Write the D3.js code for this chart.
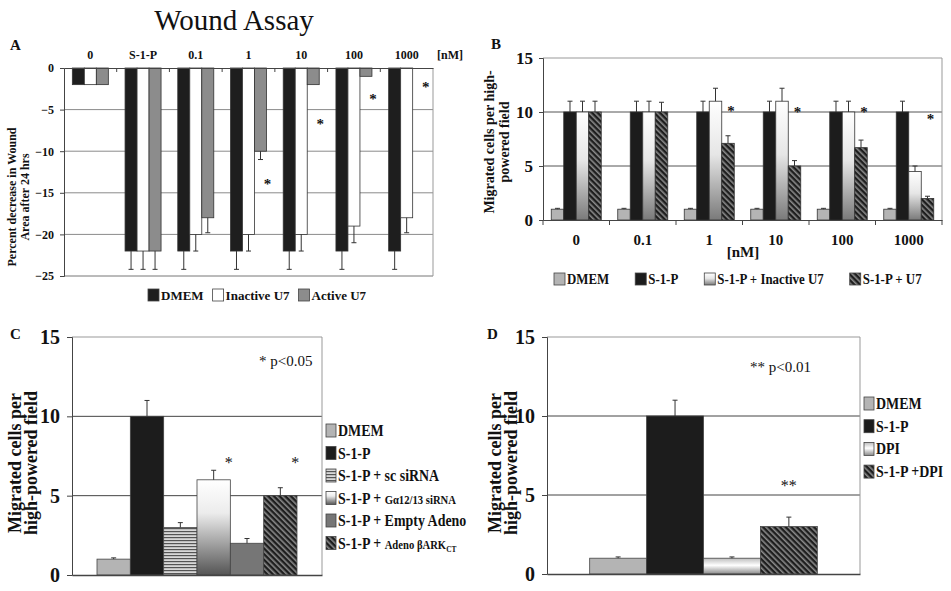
<!DOCTYPE html>
<html>
<head>
<meta charset="utf-8">
<script src="https://cdn.jsdelivr.net/npm/d3@7"></script>
<style>
  body { margin: 0; background: #fff; }
  svg text { font-family: "Liberation Serif", "Times New Roman", serif; fill: #111; }
  svg text.star { opacity: 0.99; }
</style>
</head>
<body>
<svg id="fig" width="951" height="591"></svg>
<script>
// ---- Panel A : wound assay ----
const woundCats = ["0", "S-1-P", "0.1", "1", "10", "100", "1000"];
const woundSeries = ["DMEM", "Inactive U7", "Active U7"];
const woundDMEM = [-2, -22, -22, -22, -22, -22, -22];
const woundInactive = [-2, -22, -20, -20, -20, -19, -18];
const woundActive = [-2, -22, -18, -10, -2, -1, 0];
const woundDMEMErr = [0, 2.2, 2.2, 2.2, 2.2, 2.2, 2.2];
const woundInactiveErr = [0, 2.2, 2, 2, 2, 2, 1.8];
const woundActiveErr = [0, 2.2, 1.8, 1, 0, 0, 0];
const woundStars = [null, null, null, -13.7, -6.5, -3.5, -2];
const woundTicks = [0, -5, -10, -15, -20, -25];

// ---- Panel B : migration vs U7 dose ----
const doseCats = ["0", "0.1", "1", "10", "100", "1000"];
const doseSeries = ["DMEM", "S-1-P", "S-1-P + Inactive U7", "S-1-P + U7"];
const doseDMEM = [1, 1, 1, 1, 1, 1];
const doseS1P = [10, 10, 10, 10, 10, 10];
const doseInactive = [10, 10, 11, 11, 10, 4.5];
const doseU7 = [10, 10, 7.1, 5, 6.7, 2];
const doseDMEMErr = [0.08, 0.08, 0.08, 0.08, 0.08, 0.08];
const doseS1PErr = [1, 1, 1, 1, 1, 1];
const doseInactiveErr = [1, 1, 1.2, 1.2, 1, 0.5];
const doseU7Err = [1, 0.9, 0.7, 0.5, 0.7, 0.2];
const doseStars = [null, null, 10.4, 10.3, 10.3, 9.6];
const countTicks = [0, 5, 10, 15];

// ---- Panel C : siRNA / adeno ----
const sirnaSeries = ["DMEM", "S-1-P", "S-1-P + sc siRNA", "S-1-P + Gα12/13 siRNA", "S-1-P + Empty Adeno", "S-1-P + Adeno βARKCT"];
const sirnaValues = [1, 10, 3, 6, 2, 5];
const sirnaErr = [0.08, 1, 0.3, 0.6, 0.3, 0.5];
const sirnaStars = [null, null, null, 7.3, null, 7.3];

// ---- Panel D : DPI ----
const dpiSeries = ["DMEM", "S-1-P", "DPI", "S-1-P +DPI"];
const dpiValues = [1, 10, 1, 3];
const dpiErr = [0.08, 1, 0.08, 0.6];
const dpiStars = [null, null, null, 5.8];

const svg = d3.select("#fig");
const defs = svg.append("defs");

// fills
const hatch = defs.append("pattern").attr("id", "hatch")
  .attr("patternUnits", "userSpaceOnUse").attr("width", 4).attr("height", 4)
  .attr("patternTransform", "rotate(-45)");
hatch.append("rect").attr("width", 4).attr("height", 4).attr("fill", "#1e1e1e");
hatch.append("rect").attr("width", 1.6).attr("height", 4).attr("fill", "#8a8a8a");

const hstripe = defs.append("pattern").attr("id", "hstripe")
  .attr("patternUnits", "userSpaceOnUse").attr("width", 4).attr("height", 3);
hstripe.append("rect").attr("width", 4).attr("height", 3).attr("fill", "#d8d8d8");
hstripe.append("rect").attr("width", 4).attr("height", 1.2).attr("fill", "#555");

function vgrad(id, stops) {
  const g = defs.append("linearGradient").attr("id", id)
    .attr("x1", 0).attr("y1", 0).attr("x2", 0).attr("y2", 1);
  stops.forEach(s => g.append("stop").attr("offset", s[0]).attr("stop-color", s[1]));
}
vgrad("gradInactive", [[0, "#ffffff"], [0.45, "#e6e6e6"], [1, "#7a7a7a"]]);
vgrad("gradSirna", [[0, "#ffffff"], [0.35, "#ececec"], [1, "#555555"]]);
vgrad("gradDpi", [[0, "#bdbdbd"], [0.45, "#ffffff"], [1, "#8a8a8a"]]);

function drawErr(g, cx, y0, y1) {
  g.append("line").attr("x1", cx).attr("x2", cx).attr("y1", y0).attr("y2", y1)
    .attr("stroke", "#333").attr("stroke-width", 1);
  g.append("line").attr("x1", cx - 2.5).attr("x2", cx + 2.5).attr("y1", y1).attr("y2", y1)
    .attr("stroke", "#333").attr("stroke-width", 1);
}

// horizontal legend, text squeezed by sx like the original figure
function legendRow(g, items, x, y, gap, fs, sx) {
  let cx = x;
  items.forEach(it => {
    g.append("rect").attr("x", cx).attr("y", y - 6).attr("width", 11).attr("height", 12)
      .attr("fill", it.fill).attr("stroke", "#444").attr("stroke-width", 0.8);
    const tx = cx + 13;
    const t = g.append("text").attr("x", 0).attr("y", 0)
      .attr("transform", `translate(${tx},${y + fs * 0.35}) scale(${sx},1)`)
      .attr("font-size", fs).attr("font-weight", "bold").text(it.name);
    cx = tx + t.node().getComputedTextLength() * sx + gap;
  });
}

function yLabel(g, lines, cx, cy, fs, lh) {
  const t = g.append("text").attr("transform", `translate(${cx},${cy}) rotate(-90)`)
    .attr("text-anchor", "middle").attr("font-size", fs).attr("font-weight", "bold");
  lines.forEach((l, i) => t.append("tspan").attr("x", 0).attr("dy", i === 0 ? 0 : lh).text(l));
}

// ================= Panel A =================
{
  const g = svg.append("g");
  g.append("text").attr("x", 234).attr("y", 30).attr("text-anchor", "middle")
    .attr("font-size", 29).text("Wound Assay");
  g.append("text").attr("x", 10).attr("y", 50).attr("font-size", 15).attr("font-weight", "bold").text("A");

  const x0 = d3.scaleBand().domain(woundCats).range([64, 433]).paddingInner(0.317).paddingOuter(0.158);
  const x1 = d3.scaleBand().domain(woundSeries).range([0, x0.bandwidth()]);
  const y = d3.scaleLinear().domain([-25, 0]).range([276, 68]);
  const fills = ["#1e1e1e", "#ffffff", "#8c8c8c"];
  const vals = [woundDMEM, woundInactive, woundActive];
  const errs = [woundDMEMErr, woundInactiveErr, woundActiveErr];

  // gridlines
  g.append("g").selectAll("line").data(woundTicks.filter(d => d < 0)).join("line")
    .attr("x1", 64).attr("x2", 433).attr("y1", d => y(d)).attr("y2", d => y(d))
    .attr("stroke", d => d === -25 ? "#777" : "#8a8a8a").attr("stroke-width", 1);
  g.append("line").attr("x1", 433).attr("x2", 433).attr("y1", y(0)).attr("y2", y(-25)).attr("stroke", "#999");

  woundCats.forEach((c, i) => {
    woundSeries.forEach((s, j) => {
      const v = vals[j][i];
      if (v === 0) return;
      g.append("rect").attr("x", x0(c) + x1(s)).attr("width", x1.bandwidth())
        .attr("y", y(0)).attr("height", y(v) - y(0))
        .attr("fill", fills[j]).attr("stroke", "#333").attr("stroke-width", 0.8);
      if (errs[j][i] > 0) drawErr(g, x0(c) + x1(s) + x1.bandwidth() / 2, y(v), y(v - errs[j][i]));
    });
    if (woundStars[i] !== null)
      g.append("text").attr("class", "star").attr("x", x0(c) + x0.bandwidth() + 1).attr("y", y(woundStars[i]) + 7)
        .attr("text-anchor", "middle").attr("font-size", 15).attr("font-weight", "bold").text("*");
  });

  // top axis at 0 with category labels
  const axTop = g.append("g").attr("transform", `translate(0,${y(0)})`)
    .call(d3.axisBottom(x0).tickSize(0).tickFormat(""));
  axTop.select(".domain").attr("stroke", "#444").attr("stroke-width", 1.2);
  woundCats.forEach((c, i) => {
    if (i > 0) g.append("line").attr("x1", x0(c) - (x0.step() - x0.bandwidth()) / 2)
      .attr("x2", x0(c) - (x0.step() - x0.bandwidth()) / 2)
      .attr("y1", y(0)).attr("y2", y(0) + 4).attr("stroke", "#444");
    g.append("text").attr("x", x0(c) + x0.bandwidth() / 2).attr("y", 59)
      .attr("text-anchor", "middle").attr("font-size", 12).attr("font-weight", "bold").text(c);
  });
  g.append("text").attr("x", 450).attr("y", 59).attr("text-anchor", "middle")
    .attr("font-size", 12).attr("font-weight", "bold").text("[nM]");

  const axL = g.append("g").attr("transform", "translate(64,0)")
    .call(d3.axisLeft(y).tickValues(woundTicks).tickSize(4).tickPadding(6));
  axL.select(".domain").attr("stroke", "#444");
  axL.selectAll(".tick line").attr("stroke", "#444");
  axL.selectAll(".tick text").attr("font-size", 12).attr("font-weight", "bold")
    .style("font-family", '"Liberation Serif", serif').attr("fill", "#111");

  yLabel(g, ["Percent decrease in Wound", "Area after 24 hrs"], 16, 197, 12, 13);

  legendRow(g, woundSeries.map((s, j) => ({ name: s, fill: fills[j] })), 148, 295, 9, 13, 1);
}

// ================= Panel B =================
{
  const g = svg.append("g");
  g.append("text").attr("x", 491).attr("y", 49).attr("font-size", 15).attr("font-weight", "bold").text("B");

  const x0 = d3.scaleBand().domain(doseCats).range([543, 942]).paddingInner(0.248).paddingOuter(0.124);
  const x1 = d3.scaleBand().domain(doseSeries).range([0, x0.bandwidth()]);
  const y = d3.scaleLinear().domain([0, 15]).range([220, 58]);
  const fills = ["#b4b4b4", "#1c1c1c", "url(#gradInactive)", "url(#hatch)"];
  const vals = [doseDMEM, doseS1P, doseInactive, doseU7];
  const errs = [doseDMEMErr, doseS1PErr, doseInactiveErr, doseU7Err];

  g.append("g").selectAll("line").data(countTicks.filter(d => d > 0)).join("line")
    .attr("x1", 543).attr("x2", 942).attr("y1", d => y(d)).attr("y2", d => y(d))
    .attr("stroke", d => d === 15 ? "#999" : "#555").attr("stroke-width", 1);
  g.append("line").attr("x1", 942).attr("x2", 942).attr("y1", y(15)).attr("y2", y(0)).attr("stroke", "#999");

  doseCats.forEach((c, i) => {
    doseSeries.forEach((s, j) => {
      const v = vals[j][i];
      const bx = x0(c) + x1(s);
      g.append("rect").attr("x", bx).attr("width", x1.bandwidth())
        .attr("y", y(v)).attr("height", y(0) - y(v))
        .attr("fill", fills[j]).attr("stroke", "#333").attr("stroke-width", 0.8);
      drawErr(g, bx + x1.bandwidth() / 2, y(v), y(v + errs[j][i]));
    });
    if (doseStars[i] !== null)
      g.append("text").attr("class", "star").attr("x", x0(c) + x1("S-1-P + U7") + x1.bandwidth() / 2 + 3)
        .attr("y", y(doseStars[i]) + 8).attr("text-anchor", "middle")
        .attr("font-size", 15).attr("font-weight", "bold").text("*");
  });

  const axB = g.append("g").attr("transform", `translate(0,${y(0)})`)
    .call(d3.axisBottom(x0).tickSize(0).tickPadding(14));
  axB.select(".domain").attr("stroke", "#444").attr("stroke-width", 1.2);
  axB.selectAll(".tick text").attr("font-size", 15).attr("font-weight", "bold")
    .style("font-family", '"Liberation Serif", serif').attr("fill", "#111");
  doseCats.concat(["end"]).forEach((c, i) => {
    const bx = 543 + i * x0.step();
    g.append("line").attr("x1", bx).attr("x2", bx).attr("y1", y(0)).attr("y2", y(0) + 5).attr("stroke", "#444");
  });
  g.append("text").attr("x", 743).attr("y", 257).attr("text-anchor", "middle")
    .attr("font-size", 15).attr("font-weight", "bold").text("[nM]");

  const axL = g.append("g").attr("transform", "translate(543,0)")
    .call(d3.axisLeft(y).tickValues(countTicks).tickSize(4).tickPadding(6));
  axL.select(".domain").attr("stroke", "#444");
  axL.selectAll(".tick line").attr("stroke", "#444");
  axL.selectAll(".tick text").attr("font-size", 17).attr("font-weight", "bold")
    .style("font-family", '"Liberation Serif", serif').attr("fill", "#111");

  yLabel(g, ["Migrated cells per high-", "powered field"], 494, 142, 14, 15);

  legendRow(g, doseSeries.map((s, j) => ({ name: s, fill: fills[j] })), 554, 279, 26, 15, 0.86);
}

// ============ shared single-group panels (C, D) ============
function singlePanel(o) {
  const g = svg.append("g");
  g.append("text").attr("x", o.letterX).attr("y", 339).attr("font-size", 15).attr("font-weight", "bold").text(o.letter);
  const x = d3.scaleBand().domain(o.series).range([o.left, o.right]).paddingInner(0).paddingOuter(0.75);
  const y = d3.scaleLinear().domain([0, 15]).range([o.bottom, 337]);

  g.append("g").selectAll("line").data(countTicks.filter(d => d > 0)).join("line")
    .attr("x1", o.left).attr("x2", o.right).attr("y1", d => y(d)).attr("y2", d => y(d))
    .attr("stroke", d => d === 15 ? "#999" : "#444").attr("stroke-width", 1);
  g.append("line").attr("x1", o.right).attr("x2", o.right).attr("y1", y(15)).attr("y2", y(0)).attr("stroke", "#999");

  o.series.forEach((s, i) => {
    const v = o.values[i];
    g.append("rect").attr("x", x(s)).attr("width", x.bandwidth())
      .attr("y", y(v)).attr("height", y(0) - y(v))
      .attr("fill", o.fills[i]).attr("stroke", "#444").attr("stroke-width", 0.8);
    drawErr(g, x(s) + x.bandwidth() / 2, y(v), y(v + o.err[i]));
    if (o.stars[i] !== null)
      g.append("text").attr("class", "star").attr("x", x(s) + x.bandwidth() * o.starShift).attr("y", y(o.stars[i]) + 9)
        .attr("text-anchor", "middle").attr("font-size", 16).text(o.starText);
  });

  const axB = g.append("g").attr("transform", `translate(0,${y(0)})`)
    .call(d3.axisBottom(x).tickSize(0).tickFormat(""));
  axB.select(".domain").attr("stroke", "#444").attr("stroke-width", 1.5);

  const axL = g.append("g").attr("transform", `translate(${o.left},0)`)
    .call(d3.axisLeft(y).tickValues(countTicks).tickSize(5).tickPadding(7));
  axL.select(".domain").attr("stroke", "#444");
  axL.selectAll(".tick line").attr("stroke", "#444");
  axL.selectAll(".tick text").attr("font-size", 20).attr("font-weight", "bold")
    .style("font-family", '"Liberation Serif", serif').attr("fill", "#111");

  g.append("text").attr("x", o.noteX).attr("y", o.noteY).attr("font-size", 15).text(o.note);

  yLabel(g, ["Migrated cells per", "high-powered field"], o.labelX, 463, 18, 16);

  // vertical legend
  o.series.forEach((s, i) => {
    const ly = o.legendY + i * o.legendStep;
    g.append("rect").attr("x", o.right + 4).attr("y", ly - 6).attr("width", 10).attr("height", 13)
      .attr("fill", o.fills[i]).attr("stroke", "#444").attr("stroke-width", 0.8);
    const t = g.append("text").attr("x", 0).attr("y", 0)
      .attr("font-size", 17).attr("font-weight", "bold")
      .attr("transform", `translate(${o.right + 16},${ly + 6}) scale(0.82,1)`);
    o.legendText(t, s, i);
  });
}

singlePanel({
  letter: "C", letterX: 10, left: 72, right: 322, bottom: 575,
  series: sirnaSeries, values: sirnaValues, err: sirnaErr, stars: sirnaStars,
  starText: "*", starShift: 0.95,
  fills: ["#b4b4b4", "#1c1c1c", "url(#hstripe)", "url(#gradSirna)", "#767676", "url(#hatch)"],
  note: "* p<0.05", noteX: 259, noteY: 366, labelX: 21,
  legendY: 430, legendStep: 22.5,
  legendText: (t, s, i) => {
    if (i === 3) {
      t.append("tspan").text("S-1-P +  ");
      t.append("tspan").attr("font-size", 13).text("Gα12/13 siRNA");
    } else if (i === 5) {
      t.append("tspan").text("S-1-P + ");
      t.append("tspan").attr("font-size", 13).text(" Adeno βARK");
      t.append("tspan").attr("font-size", 9).attr("dy", 3).text("CT");
    } else t.text(s);
  }
});

singlePanel({
  letter: "D", letterX: 487, left: 547, right: 860, bottom: 574,
  series: dpiSeries, values: dpiValues, err: dpiErr, stars: dpiStars,
  starText: "**", starShift: 0.5,
  fills: ["#b4b4b4", "#1c1c1c", "url(#gradDpi)", "url(#hatch)"],
  note: "** p<0.01", noteX: 750, noteY: 372, labelX: 501,
  legendY: 403, legendStep: 22.7,
  legendText: (t, s) => t.text(s)
});
</script>
</body>
</html>
